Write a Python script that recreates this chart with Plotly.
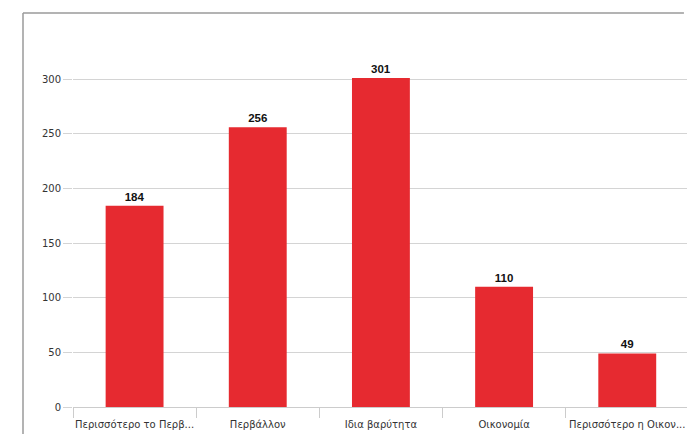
import plotly.graph_objects as go

# Survey answers and counts
categories = ["Περισσότερο το Περβ...", "Περβάλλον", "Ιδια βαρύτητα", "Οικονομία", "Περισσότερο η Οικον..."]
counts = [184, 256, 301, 110, 49]
y_ticks = [0, 50, 100, 150, 200, 250, 300]

W, H = 687, 436
left, right, top, bottom = 73, 0, 13, 29
plot_w = W - left - right
plot_h = H - top - bottom

fig = go.Figure(
    go.Bar(
        x=categories,
        y=counts,
        width=0.47,
        marker=dict(color="#e62a30", line=dict(width=0)),
        text=[str(v) for v in counts],
        textposition="outside",
        cliponaxis=False,
        textfont=dict(family="Arial, Liberation Sans, sans-serif", size=11.5, color="#111111", weight="bold"),
    )
)

# outer frame (top and left edges)
frame_x = (23 - left) / plot_w
frame_bottom = -(bottom - 2) / plot_h
fig.add_shape(type="line", xref="paper", yref="paper", x0=frame_x, x1=0.995, y0=1, y1=1,
              line=dict(color="#9a9a9a", width=1.5))
fig.add_shape(type="line", xref="paper", yref="paper", x0=frame_x, x1=frame_x, y0=1, y1=frame_bottom,
              line=dict(color="#9a9a9a", width=1.5))

fig.update_layout(
    width=W,
    height=H,
    margin=dict(l=left, r=right, t=top, b=bottom, pad=0),
    paper_bgcolor="white",
    plot_bgcolor="white",
    showlegend=False,
    hovermode=False,
    dragmode=False,
    font=dict(family="DejaVu Sans, sans-serif", size=10, color="#333333"),
)
fig.update_xaxes(
    type="category",
    range=[-0.5, len(categories) - 0.5 - 0.015],
    automargin=False,
    fixedrange=True,
    tickangle=0,
    showgrid=False,
    showline=True,
    linecolor="#cccccc",
    linewidth=1,
    zeroline=False,
    ticks="outside",
    tickson="boundaries",
    ticklen=10,
    tickcolor="#cccccc",
    ticklabelstandoff=8,
    tickfont=dict(family="DejaVu Sans, sans-serif", size=10, color="#333333"),
)
fig.update_yaxes(
    range=[0, 360.4],
    automargin=False,
    fixedrange=True,
    tickvals=y_ticks,
    showgrid=True,
    gridcolor="#d4d4d4",
    gridwidth=1,
    zeroline=False,
    ticks="outside",
    ticklen=9,
    tickcolor="#d4d4d4",
    tickfont=dict(family="DejaVu Sans, sans-serif", size=10, color="#333333"),
)

fig.write_html("out.html", config={"displayModeBar": False, "staticPlot": True})
